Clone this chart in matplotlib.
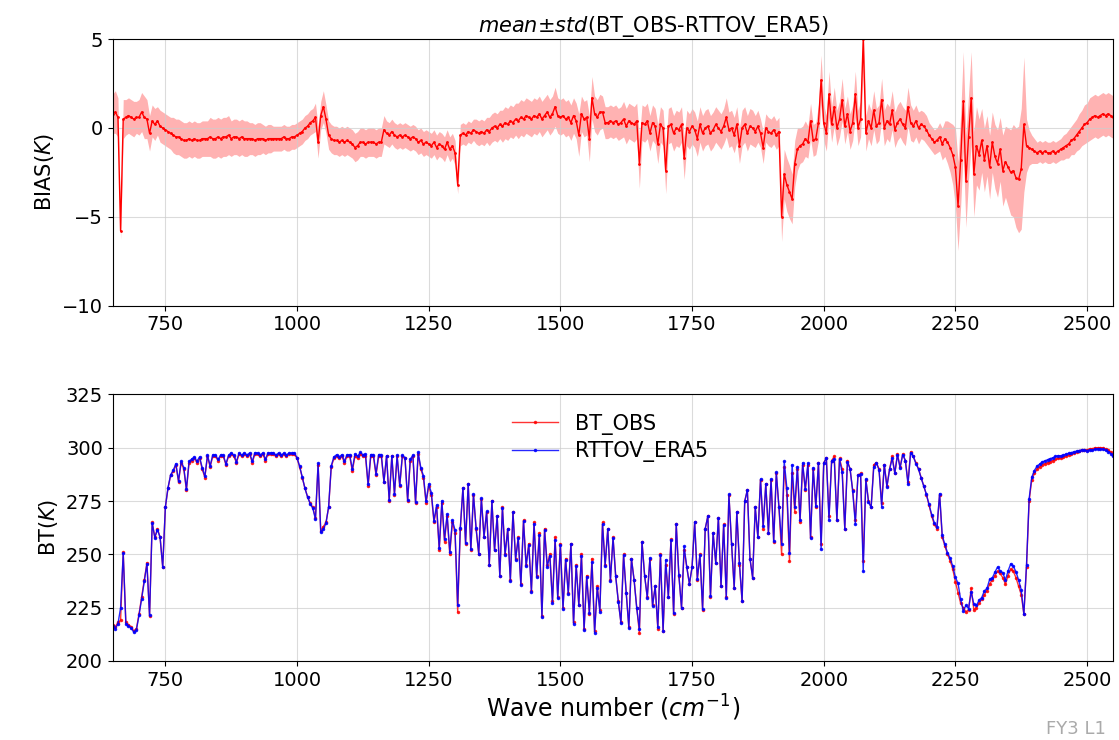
import numpy as np
import matplotlib
matplotlib.use('Agg')
from matplotlib import pyplot as plt

# 波数网格 650~2550, 间隔 5
wn = np.arange(650, 2551, 5)

# 观测亮温 BT_OBS (K), 每行 50 个波数
bt_obs = [
    217, 216, 218, 219, 251, 218, 217, 216, 214, 215,   # 650
    222, 230, 238, 246, 221, 265, 258, 262, 258, 244,   # 700
    272, 281, 287, 289, 292, 284, 293, 290, 280, 293,   # 750
    294, 295, 293, 295, 290, 286, 296, 291, 296, 296,   # 800
    294, 296, 296, 292, 296, 297, 296, 293, 297, 296,   # 850
    297, 296, 297, 293, 297, 297, 296, 297, 294, 297,   # 900
    297, 297, 296, 297, 296, 297, 296, 297, 297, 297,   # 950
    295, 291, 286, 281, 277, 274, 272, 267, 292, 261,   # 1000
    263, 265, 272, 291, 295, 296, 295, 296, 293, 296,   # 1050
    296, 289, 296, 295, 297, 296, 296, 282, 296, 296,   # 1100
    287, 296, 296, 284, 296, 275, 296, 278, 296, 282,   # 1150
    296, 295, 275, 294, 296, 274, 297, 290, 286, 274,   # 1200
    282, 278, 265, 272, 252, 274, 256, 268, 250, 265,   # 1250
    260, 223, 262, 281, 255, 283, 252, 278, 262, 250,   # 1300
    276, 258, 270, 245, 275, 252, 268, 240, 272, 250,   # 1350
    262, 238, 270, 248, 258, 236, 266, 245, 255, 233,   # 1400
    265, 240, 260, 221, 262, 245, 250, 228, 258, 230,   # 1450
    255, 225, 248, 232, 255, 218, 245, 226, 250, 215,   # 1500
    240, 222, 248, 214, 235, 224, 265, 245, 262, 238,   # 1550
    258, 240, 228, 218, 250, 232, 216, 248, 238, 225,   # 1600
    213, 256, 240, 230, 248, 226, 235, 215, 250, 214,   # 1650
    245, 230, 257, 222, 264, 240, 225, 252, 244, 236,   # 1700
    244, 265, 238, 250, 224, 262, 268, 230, 260, 246,   # 1750
    267, 235, 264, 230, 278, 255, 234, 270, 245, 228,   # 1800
    275, 280, 248, 239, 272, 258, 285, 262, 283, 260,   # 1850
    285, 256, 288, 272, 250, 291, 278, 247, 288, 270,   # 1900
    290, 265, 292, 280, 292, 258, 290, 272, 293, 255,   # 1950
    293, 295, 268, 294, 296, 266, 295, 290, 262, 294,   # 2000
    290, 280, 266, 287, 288, 247, 285, 275, 272, 292,   # 2050
    293, 290, 274, 292, 282, 290, 296, 288, 297, 291,   # 2100
    297, 294, 284, 298, 296, 293, 290, 286, 282, 278,   # 2150
    273, 268, 264, 262, 278, 258, 254, 250, 247, 243,   # 2200
    237, 232, 227, 225, 223, 224, 234, 224, 225, 227,   # 2250
    229, 231, 233, 236, 238, 240, 242, 241, 239, 236,   # 2300
    240, 243, 242, 239, 235, 231, 222, 244, 275, 285,   # 2350
    288, 290, 291, 292, 292.5, 293, 293.5, 294, 294.5, 295,   # 2400
    295, 295.5, 296, 296.5, 297, 297.5, 298, 298.5, 299, 299,  # 2450
    299, 299.5, 299.5, 300, 300, 300, 300, 299.5, 299, 298,    # 2500
    296.5,                                              # 2550
]

# 偏差均值 BT_OBS-RTTOV_ERA5 (K)
bias = [
    0.8, 0.9, 0.6, -5.8, 0.5, 0.6, 0.7, 0.6, 0.5, 0.6,
    0.6, 0.9, 0.6, 0.5, -0.3, 0.4, 0.2, 0.4, 0.1, 0.0,
    -0.1, -0.2, -0.3, -0.4, -0.5, -0.5, -0.6, -0.7, -0.7, -0.6,
    -0.7, -0.6, -0.7, -0.7, -0.6, -0.6, -0.6, -0.5, -0.6, -0.6,
    -0.5, -0.6, -0.5, -0.5, -0.4, -0.6, -0.5, -0.5, -0.6, -0.5,
    -0.6, -0.6, -0.6, -0.6, -0.7, -0.6, -0.6, -0.6, -0.7, -0.6,
    -0.6, -0.6, -0.6, -0.6, -0.6, -0.5, -0.6, -0.6, -0.5, -0.5,
    -0.4, -0.3, -0.2, 0.0, 0.1, 0.3, 0.4, 0.6, -0.8, 0.7,
    1.2, 0.5, -0.4, -0.6, -0.7, -0.7, -0.8, -0.7, -0.8, -0.7,
    -0.8, -0.9, -1.1, -1.0, -0.8, -0.8, -0.9, -0.8, -0.8, -0.8,
    -0.9, -0.8, -0.8, -0.1, -0.3, -0.4, -0.2, -0.4, -0.5, -0.4,
    -0.5, -0.4, -0.5, -0.6, -0.5, -0.6, -0.8, -0.7, -0.9, -0.8,
    -0.9, -1.0, -0.8, -1.1, -0.9, -1.0, -1.2, -0.8, -1.2, -1.0,
    -1.4, -3.2, -0.4, -0.3, -0.4, -0.2, -0.3, -0.1, -0.2, -0.3,
    -0.2, -0.3, -0.1, -0.2, 0.0, 0.1, 0.0, 0.2, 0.1, 0.3,
    0.2, 0.4, 0.3, 0.5, 0.4, 0.6, 0.5, 0.7, 0.6, 0.5,
    0.7, 0.6, 0.8, 0.5, 0.7, 0.9, 0.6, 0.8, 1.2, 0.7,
    0.6, 0.7, 0.5, 0.6, 0.3, 0.7, 0.4, -0.4, 0.8, 0.5,
    0.6, -0.6, 1.7, 0.8, 0.6, 0.9, 0.9, 0.3, 0.3, 0.4,
    0.3, 0.4, 0.2, 0.3, 0.5, 0.1, 0.4, 0.3, 0.2, 0.4,
    -2.0, 0.3, 0.2, 0.4, -0.3, 0.3, 0.1, -0.9, 0.2, 0.0,
    -2.4, 0.1, 0.2, -0.3, 0.0, -0.1, 0.2, -1.7, 0.0, -0.2,
    0.1, -0.1, -0.6, 0.2, -0.3, 0.0, 0.1, -0.3, -0.1, 0.2,
    0.0, -0.2, 0.1, 0.6, -0.1, 0.0, -0.4, 0.2, -1.0, 0.0,
    0.2, -0.3, 0.1, 0.0, -0.2, 0.1, -0.3, -1.1, 0.0, -0.2,
    -0.3, -0.1, -0.4, -0.2, -5.0, -2.6, -3.2, -3.6, -4.0, -2.0,
    -1.2, -1.0, -0.9, -0.6, -0.8, 0.4, -0.7, -0.6, 0.3, 2.7,
    0.3, -0.3, 1.9, 0.2, 1.2, 0.0, 0.5, 1.6, 0.1, 0.8,
    -0.2, 0.3, 1.9, 0.0, 0.5, 5.0, -0.3, 0.4, 0.0, 1.0,
    0.1, 0.3, 1.6, 0.0, 0.4, 0.2, 1.0, -0.1, 0.3, 0.5,
    0.2, 0.0, 1.2, 0.3, 0.1, 0.4, 0.0, 0.2, 0.1, -0.1,
    -0.4, -0.6, -0.8, -0.7, -0.5, -0.9, -0.6, -0.8, -1.1, -1.5,
    -2.2, -4.4, -1.8, 1.5, -3.0, -0.5, 1.7, -2.6, -1.0, -1.5,
    -0.7, -1.8, -1.0, -2.2, -0.8, -1.6, -2.0, -1.2, -2.4, -1.9,
    -2.2, -2.5, -2.4, -2.8, -2.9, -2.3, 0.2, -1.0, -1.1, -1.2,
    -1.3, -1.4, -1.3, -1.4, -1.3, -1.4, -1.4, -1.3, -1.4, -1.3,
    -1.2, -1.1, -1.0, -0.9, -0.7, -0.6, -0.4, -0.2, 0.0, 0.2,
    0.3, 0.5, 0.6, 0.7, 0.6, 0.7, 0.8, 0.7, 0.8, 0.7,
    0.6,
]

# 偏差标准差 (K)
std = [
    1.1, 1.2, 1.1, 0.5, 1.1, 1.0, 1.0, 1.0, 1.0, 0.9,
    1.0, 1.1, 1.2, 1.1, 1.0, 0.9, 0.9, 0.8, 0.9, 0.9,
    0.9, 0.9, 0.9, 1.0, 1.0, 1.0, 1.0, 1.0, 1.0, 1.0,
    1.0, 1.0, 1.0, 1.0, 1.0, 1.0, 1.0, 1.1, 1.1, 1.1,
    1.1, 1.1, 1.1, 1.1, 1.1, 1.0, 1.0, 1.0, 1.0, 1.0,
    1.0, 1.0, 0.9, 0.9, 0.9, 0.9, 0.9, 0.8, 0.8, 0.8,
    0.8, 0.7, 0.7, 0.7, 0.7, 0.7, 0.7, 0.7, 0.7, 0.7,
    0.7, 0.7, 0.7, 0.7, 0.7, 0.7, 0.7, 0.8, 0.9, 0.8,
    0.9, 0.8, 0.8, 0.8, 0.8, 0.8, 0.8, 0.8, 0.8, 0.8,
    0.8, 0.8, 0.8, 0.8, 0.8, 0.8, 0.8, 0.8, 0.8, 0.8,
    0.8, 0.8, 0.8, 0.8, 0.7, 0.7, 0.7, 0.7, 0.7, 0.7,
    0.7, 0.7, 0.7, 0.7, 0.7, 0.7, 0.7, 0.7, 0.7, 0.7,
    0.7, 0.7, 0.7, 0.7, 0.7, 0.7, 0.7, 0.7, 0.7, 0.7,
    0.7, 0.5, 0.6, 0.6, 0.6, 0.6, 0.6, 0.6, 0.7, 0.7,
    0.7, 0.7, 0.7, 0.8, 0.8, 0.8, 0.8, 0.8, 0.9, 0.9,
    0.9, 0.9, 0.9, 0.9, 1.0, 1.0, 1.0, 1.0, 1.0, 1.0,
    1.0, 1.0, 1.0, 1.0, 1.0, 1.0, 1.0, 1.0, 1.1, 1.0,
    1.0, 1.0, 1.0, 1.0, 1.0, 1.0, 1.0, 1.2, 1.0, 1.0,
    1.0, 1.3, 1.2, 1.0, 1.0, 1.0, 0.9, 0.9, 0.9, 0.9,
    0.9, 0.9, 0.9, 0.9, 1.0, 1.0, 1.0, 1.0, 1.0, 1.0,
    1.4, 1.0, 1.0, 1.0, 1.0, 1.0, 1.0, 1.1, 1.0, 1.0,
    1.3, 1.0, 1.0, 1.0, 1.0, 1.0, 1.0, 1.2, 1.0, 1.0,
    1.0, 1.0, 1.0, 1.0, 1.0, 1.0, 1.0, 1.0, 1.0, 1.0,
    1.0, 1.0, 1.0, 1.1, 1.0, 1.0, 1.0, 1.0, 1.0, 1.0,
    1.0, 1.0, 1.0, 1.0, 0.9, 0.9, 0.8, 0.9, 0.8, 0.8,
    0.8, 0.8, 0.8, 0.8, 1.4, 1.4, 1.5, 1.5, 1.4, 1.3,
    1.2, 1.0, 1.0, 1.0, 0.9, 1.0, 0.9, 0.9, 1.0, 1.4,
    1.0, 1.0, 1.3, 1.0, 1.1, 1.0, 1.0, 1.2, 1.0, 1.0,
    1.0, 1.0, 1.3, 1.0, 1.0, 1.5, 1.0, 1.0, 1.0, 1.1,
    1.0, 1.0, 1.2, 1.0, 1.0, 1.0, 1.1, 1.0, 1.0, 1.0,
    1.0, 1.0, 1.1, 1.0, 0.9, 0.9, 0.9, 0.8, 0.8, 0.8,
    0.7, 0.7, 0.7, 0.7, 0.8, 0.9, 1.0, 1.2, 1.4, 1.7,
    2.2, 2.5, 2.6, 2.8, 2.6, 2.4, 2.6, 2.4, 2.2, 2.0,
    1.8, 1.8, 1.7, 1.8, 1.7, 1.8, 1.9, 1.8, 2.0, 2.0,
    2.2, 2.4, 2.6, 2.8, 3.0, 3.4, 3.8, 1.5, 1.0, 0.8,
    0.7, 0.6, 0.6, 0.6, 0.6, 0.6, 0.6, 0.6, 0.6, 0.6,
    0.6, 0.7, 0.7, 0.8, 0.8, 0.9, 0.9, 1.0, 1.0, 1.1,
    1.1, 1.2, 1.2, 1.2, 1.2, 1.2, 1.2, 1.2, 1.2, 1.2,
    1.2,
]

bt_obs = np.array(bt_obs, dtype=float)
bias = np.array(bias)
std = np.array(std)
# 模拟亮温 = 观测 - 偏差
bt_rttov = bt_obs - bias

fig, (ax1, ax2) = plt.subplots(2, 1, figsize=(11.19, 7.40), dpi=100)
plt.subplots_adjust(left=0.1007, right=0.995, top=0.947, bottom=0.107, hspace=0.334)

# 上图: 偏差均值 ± 标准差
ax1.fill_between(wn, bias - std, bias + std, color='r', alpha=0.3, lw=0)
ax1.plot(wn, bias, 'r.-', lw=1.0, ms=2)
ax1.set_xlim(650, 2550)
ax1.set_ylim(-10, 5)
ax1.set_yticks([-10, -5, 0, 5])
ax1.set_ylabel('BIAS($K$)', fontsize=15)
ax1.set_title('$mean{\\pm}std$(BT_OBS-RTTOV_ERA5)', fontsize=15, pad=4, x=0.54)
ax1.grid(True, color='#cccccc', lw=0.8, alpha=0.7)

# 下图: 亮温谱
ax2.plot(wn, bt_obs, 'r.-', lw=1.0, ms=3, alpha=0.8, label='BT_OBS')
ax2.plot(wn, bt_rttov, 'b.-', lw=1.0, ms=3, alpha=0.85, label='RTTOV_ERA5')
ax2.set_xlim(650, 2550)
ax2.set_ylim(200, 325)
ax2.set_yticks(np.arange(200, 326, 25))
ax2.set_ylabel('BT($K$)', fontsize=15)
ax2.set_xlabel('Wave number ($cm^{-1}$)', fontsize=17, labelpad=2)
ax2.grid(True, color='#cccccc', lw=0.8, alpha=0.7)
ax2.legend(loc='upper center', bbox_to_anchor=(0.497, 0.975), frameon=False,
           fontsize=15, handlelength=2.2, borderaxespad=0.2, labelspacing=0.3)

for ax in (ax1, ax2):
    ax.set_xticks(np.arange(750, 2501, 250))
    ax.tick_params(labelsize=14)

fig.text(0.935, 0.008, 'FY3 L1', color='#aaaaaa', fontsize=13)

plt.savefig('out.png', dpi=100)
